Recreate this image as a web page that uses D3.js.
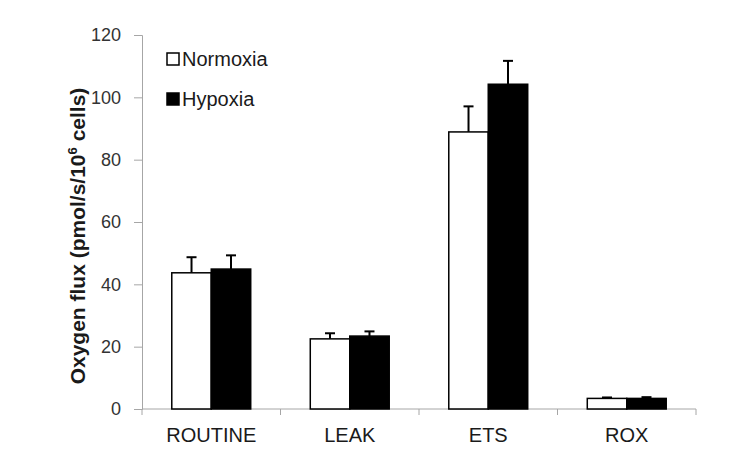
<!DOCTYPE html>
<html>
<head>
<meta charset="utf-8">
<script src="https://cdn.jsdelivr.net/npm/d3@7"></script>
<style>
  body { margin: 0; background: #fff; }
  svg text { font-family: "Liberation Sans", Arial, sans-serif; }
</style>
</head>
<body>
<svg id="chart" width="750" height="472"></svg>
<script>
// data
const categories = ['ROUTINE', 'LEAK', 'ETS', 'ROX'];
const seriesNames = ['Normoxia', 'Hypoxia'];
const normoxia = [43.7, 22.5, 88.9, 3.4];
const normoxiaErr = [5.0, 1.8, 8.2, 0.3];
const hypoxia = [44.9, 23.4, 104.2, 3.4];
const hypoxiaErr = [4.4, 1.5, 7.5, 0.4];
const yTicks = [0, 20, 40, 60, 80, 100, 120];

const svg = d3.select('#chart');
const margin = { left: 142, right: 54, top: 35, bottom: 63 };
const width = 750 - margin.left - margin.right;
const height = 472 - margin.top - margin.bottom;

const g = svg.append('g').attr('transform', `translate(${margin.left},${margin.top})`);

const x = d3.scaleBand().domain(categories).range([0, width]).paddingInner(0).paddingOuter(0);
const inner = d3.scaleBand().domain(seriesNames).range([x.bandwidth() * 0.215, x.bandwidth() * 0.785]);
const y = d3.scaleLinear().domain([0, 120]).range([height, 0]);

const axisColor = '#a6a6a6';

// y axis
const yAxis = g.append('g').call(d3.axisLeft(y).tickValues(yTicks).tickSize(8).tickPadding(13));
yAxis.select('.domain').attr('stroke', axisColor);
yAxis.selectAll('.tick line').attr('stroke', axisColor);
yAxis.selectAll('.tick text').attr('fill', '#333').style('font-size', '18px');

// x axis: ticks at band boundaries
const xAxis = g.append('g').attr('transform', `translate(0,${height})`);
xAxis.append('line').attr('x1', 0).attr('x2', width).attr('stroke', axisColor);
xAxis.selectAll('line.tk')
  .data(categories.map(c => x(c)).concat([width]))
  .join('line').attr('class', 'tk')
  .attr('x1', d => d).attr('x2', d => d).attr('y1', 0).attr('y2', 6)
  .attr('stroke', axisColor);
xAxis.selectAll('text')
  .data(categories)
  .join('text')
  .attr('x', d => x(d) + x.bandwidth() / 2)
  .attr('y', 33)
  .attr('text-anchor', 'middle')
  .attr('fill', '#1a1a1a')
  .style('font-size', '20px')
  .text(d => d);

// bars
const series = [
  { name: 'Normoxia', values: normoxia, err: normoxiaErr, fill: '#fff' },
  { name: 'Hypoxia', values: hypoxia, err: hypoxiaErr, fill: '#000' }
];

series.forEach(s => {
  const rows = categories.map((c, i) => ({ c, v: s.values[i], e: s.err[i] }));
  const grp = g.append('g');
  // error bars (upward only)
  grp.selectAll('line.err')
    .data(rows).join('line').attr('class', 'err')
    .attr('x1', d => x(d.c) + inner(s.name) + inner.bandwidth() / 2)
    .attr('x2', d => x(d.c) + inner(s.name) + inner.bandwidth() / 2)
    .attr('y1', d => y(d.v)).attr('y2', d => y(d.v + d.e))
    .attr('stroke', '#000').attr('stroke-width', 2);
  grp.selectAll('line.cap')
    .data(rows).join('line').attr('class', 'cap')
    .attr('x1', d => x(d.c) + inner(s.name) + inner.bandwidth() / 2 - 5)
    .attr('x2', d => x(d.c) + inner(s.name) + inner.bandwidth() / 2 + 5)
    .attr('y1', d => y(d.v + d.e)).attr('y2', d => y(d.v + d.e))
    .attr('stroke', '#000').attr('stroke-width', 2);
  grp.selectAll('rect')
    .data(rows).join('rect')
    .attr('x', d => x(d.c) + inner(s.name))
    .attr('width', inner.bandwidth())
    .attr('y', d => y(d.v))
    .attr('height', d => height - y(d.v))
    .attr('fill', s.fill)
    .attr('stroke', '#000').attr('stroke-width', 1.5);
});

// y axis title
svg.append('text')
  .attr('transform', 'translate(85,236) rotate(-90)')
  .attr('text-anchor', 'middle')
  .attr('fill', '#1a1a1a')
  .style('font-size', '21px').style('font-weight', 'bold')
  .html('Oxygen flux (pmol/s/10<tspan dy="-8" font-size="13px">6</tspan><tspan dy="8"> cells)</tspan>');

// legend
const legend = svg.append('g').attr('transform', 'translate(167,53)');
series.forEach((s, i) => {
  const row = legend.append('g').attr('transform', `translate(0,${i * 40})`);
  row.append('rect').attr('x', 0).attr('y', 0).attr('width', 12).attr('height', 12)
    .attr('fill', s.fill).attr('stroke', '#000').attr('stroke-width', 1.5);
  row.append('text').attr('x', 15).attr('y', 13)
    .attr('fill', '#1a1a1a').style('font-size', '20px').text(s.name);
});
</script>
</body>
</html>
